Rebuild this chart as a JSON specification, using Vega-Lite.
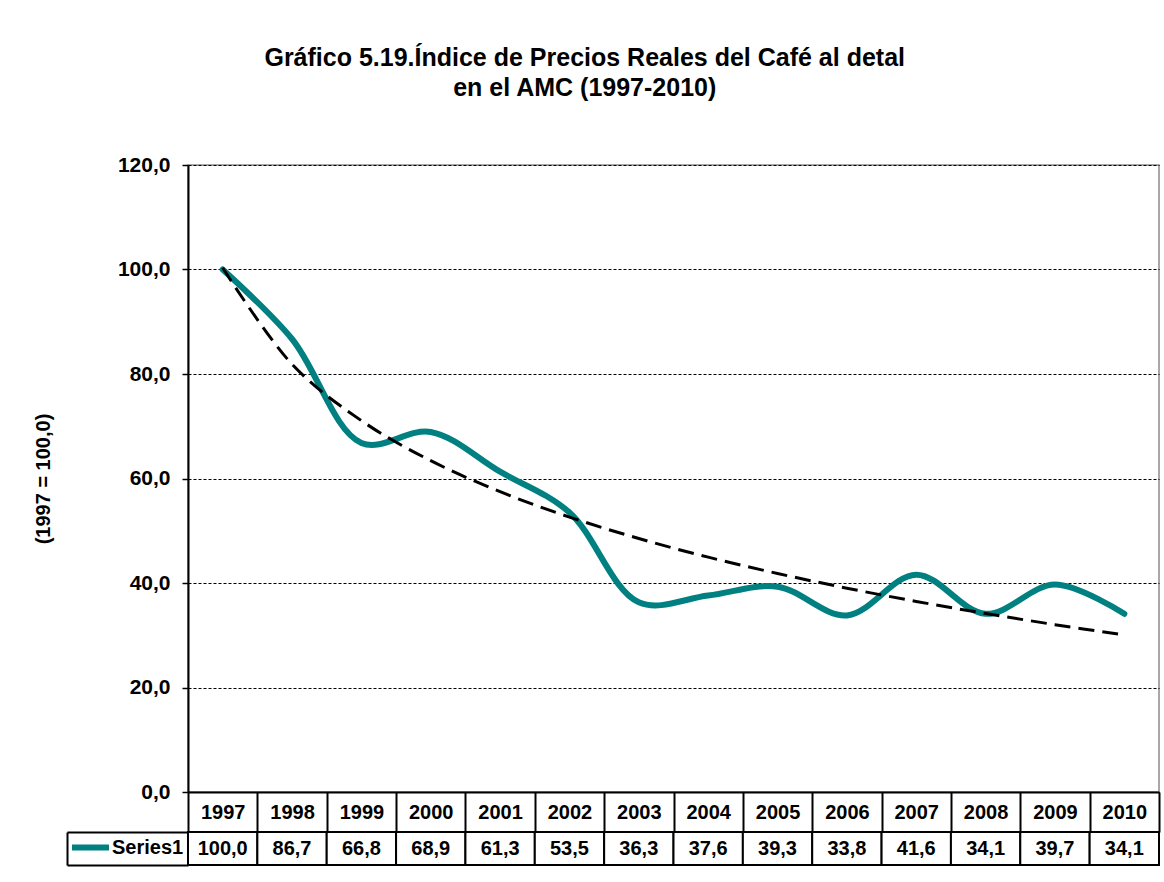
{
  "$schema": "https://vega.github.io/schema/vega-lite/v6.json",
  "background": "white",
  "padding": {"left": 32, "top": 46, "right": 5, "bottom": 5},
  "config": {
    "font": "Liberation Sans",
    "locale": {"number": {"decimal": ",", "thousands": ".", "grouping": [3], "currency": ["", ""]}}
  },
  "title": {
    "text": ["Gráfico 5.19.Índice  de  Precios Reales  del Café al detal", "en el AMC (1997-2010)"],
    "fontSize": 25, "fontWeight": "bold", "lineHeight": 30, "anchor": "middle", "frame": "bounds",
    "offset": 52, "dx": -12, "color": "#000"
  },
  "bounds": "flush",
  "spacing": 40,
  "datasets": {
    "d": [
      {"year": 1997, "series": "Series1", "value": 100.0, "trend": 100.33},
      {"year": 1998, "series": "Series1", "value": 86.7, "trend": 81.87},
      {"year": 1999, "series": "Series1", "value": 66.8, "trend": 71.07},
      {"year": 2000, "series": "Series1", "value": 68.9, "trend": 63.41},
      {"year": 2001, "series": "Series1", "value": 61.3, "trend": 57.47},
      {"year": 2002, "series": "Series1", "value": 53.5, "trend": 52.62},
      {"year": 2003, "series": "Series1", "value": 36.3, "trend": 48.51},
      {"year": 2004, "series": "Series1", "value": 37.6, "trend": 44.95},
      {"year": 2005, "series": "Series1", "value": 39.3, "trend": 41.82},
      {"year": 2006, "series": "Series1", "value": 33.8, "trend": 39.01},
      {"year": 2007, "series": "Series1", "value": 41.6, "trend": 36.47},
      {"year": 2008, "series": "Series1", "value": 34.1, "trend": 34.16},
      {"year": 2009, "series": "Series1", "value": 39.7, "trend": 32.03},
      {"year": 2010, "series": "Series1", "value": 34.1, "trend": 30.05}
    ]
  },
  "vconcat": [
    {
      "width": 971,
      "height": 627,
      "data": {"name": "d"},
      "view": {"stroke": "#8c8c8c", "strokeWidth": 1.5},
      "encoding": {
        "x": {
          "field": "year", "type": "ordinal",
          "scale": {"paddingInner": 0, "paddingOuter": 0},
          "axis": {
            "title": null, "labelAngle": 0, "labelFontSize": 20, "labelFontWeight": "bold", "labelColor": "#000",
            "labelBaseline": "middle", "labelPadding": -20, "tickBand": "extent", "tickSize": 40,
            "tickColor": "#000", "tickWidth": 2, "domainColor": "#000", "domainWidth": 2, "grid": false
          }
        }
      },
      "layer": [
        {
          "mark": {"type": "line", "interpolate": "catmull-rom", "strokeWidth": 6, "strokeCap": "round"},
          "encoding": {
            "y": {
              "field": "value", "type": "quantitative", "title": "(1997 = 100,0)",
              "scale": {"domain": [0, 120]},
              "axis": {
                "values": [0, 20, 40, 60, 80, 100, 120],
                "labelExpr": "replace(format(datum.value, '.1f'), '.', ',')",
                "titleFontSize": 20, "titleFontWeight": "bold", "titleColor": "#000", "titlePadding": 64,
                "labelFontSize": 21, "labelFontWeight": "bold", "labelColor": "#000", "labelPadding": 12,
                "tickSize": 6, "tickColor": "#000", "tickWidth": 1.5, "domainColor": "#000", "domainWidth": 2,
                "grid": true, "gridColor": "#000", "gridDash": [3, 2], "gridWidth": 1
              }
            },
            "color": {
              "datum": "Series1", "type": "nominal",
              "scale": {"range": ["#008080"]},
              "legend": {
                "orient": "none", "legendX": -119, "legendY": 661, "title": null,
                "symbolType": "stroke", "symbolSize": 1369, "symbolStrokeWidth": 6,
                "labelFontSize": 20, "labelFontWeight": "bold", "labelColor": "#000", "labelOffset": 0, "padding": 0
              }
            }
          }
        },
        {
          "mark": {"type": "line", "interpolate": "catmull-rom", "strokeWidth": 3, "strokeDash": [16, 8], "color": "#000"},
          "encoding": {
            "y": {"field": "trend", "type": "quantitative", "title": "(1997 = 100,0)"}
          }
        }
      ]
    },
    {
      "width": 971,
      "height": 33,
      "data": {"name": "d"},
      "view": {"stroke": null},
      "encoding": {
        "x": {"field": "year", "type": "ordinal", "scale": {"paddingInner": 0, "paddingOuter": 0}, "axis": null},
        "y": {
          "field": "series", "type": "nominal", "scale": {"paddingInner": 0, "paddingOuter": 0},
          "axis": {
            "title": null, "labels": false, "offset": 121, "domainColor": "#000", "domainWidth": 2,
            "tickBand": "extent", "tickSize": -121, "tickColor": "#000", "tickWidth": 2
          }
        }
      },
      "layer": [
        {"mark": {"type": "rect", "fill": "#fff", "stroke": "#000", "strokeWidth": 2}},
        {
          "mark": {"type": "text", "fontSize": 20, "fontWeight": "bold", "color": "#000"},
          "encoding": {"text": {"field": "value", "type": "quantitative", "format": ".1f"}}
        }
      ]
    }
  ]
}
